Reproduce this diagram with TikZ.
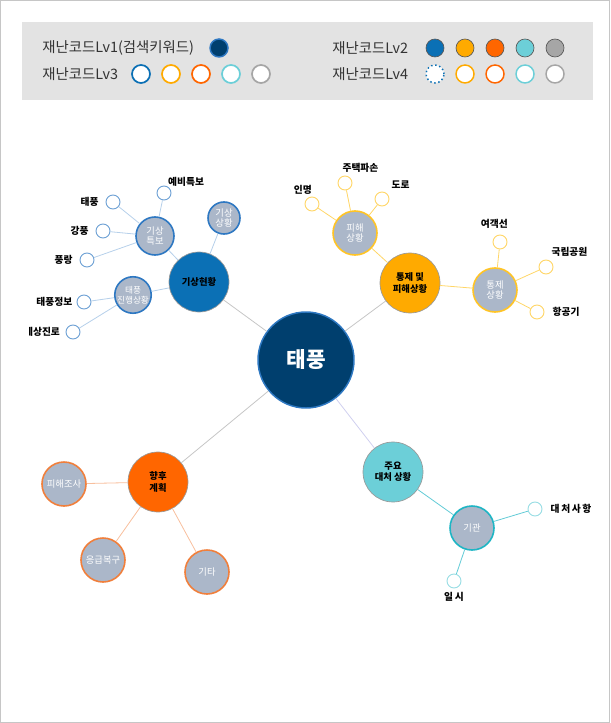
\documentclass[tikz,border=0pt]{standalone}
\usepackage{fontspec}
\setmainfont{Noto Sans CJK KR}
\usepackage{xcolor}
\usetikzlibrary{positioning}

\definecolor{navy}{HTML}{003F6E}
\definecolor{wxblue}{HTML}{0B70B5}
\definecolor{dmgyel}{HTML}{FFAA00}
\definecolor{planor}{HTML}{FF6600}
\definecolor{actcyn}{HTML}{6CCFD8}
\definecolor{midgry}{HTML}{A6A6A6}
\definecolor{subfil}{HTML}{ABB7C9}
\definecolor{bdblue}{HTML}{2E78C2}
\definecolor{bdyel}{HTML}{FFC426}
\definecolor{bdor}{HTML}{F07F3C}
\definecolor{bdcyn}{HTML}{1FB5C4}
\definecolor{legbg}{HTML}{E3E3E3}

\begin{document}
\begin{tikzpicture}[
  x=0.75pt, y=-0.75pt,
  font=\fontsize{7}{8.5}\selectfont,
  hub/.style={circle, draw=bdblue, line width=1.1pt, fill=navy, text=white,
              minimum size=72pt, inner sep=0pt,
              font=\bfseries\fontsize{16}{18}\selectfont},
  main/.style={circle, draw=gray!80, line width=0.5pt, fill=#1, align=center,
               minimum size=45pt, inner sep=0pt,
               font=\bfseries\fontsize{7}{8.5}\selectfont},
  sub/.style={circle, draw=#1, line width=1.2pt, fill=subfil, text=white,
              align=center, minimum size=33pt, inner sep=0pt,
              font=\fontsize{7}{8}\selectfont},
  leaf/.style={circle, draw=#1, line width=0.7pt, fill=white,
               minimum size=10.5pt, inner sep=0pt},
  lbl/.style={inner sep=0pt, font=\bfseries\fontsize{7.3}{8.5}\selectfont},
  lgtxt/.style={inner sep=0pt, anchor=west, text=black!80,
                font=\fontsize{10.8}{12}\selectfont},
  lgdot/.style={circle, minimum size=13.5pt, inner sep=0pt},
  link/.style={draw=#1, line width=0.6pt},
]
\useasboundingbox (0,0) rectangle (610,723);
\draw[gray!45, line width=0.6pt] (0.5,0.5) rectangle (609.5,722.5);

%% ===== LEGEND =====
\fill[legbg] (22,22) rectangle (593,100);

\node[lgtxt] (lvone) at (42,48) {재난코드Lv1(검색키워드)};
\node[lgdot, fill=navy, draw=bdblue, line width=1.1pt] (lgA) at (219,48) {};

\node[lgtxt] (lvthree) at (42,74) {재난코드Lv3};
\node[lgdot, draw=wxblue, line width=1.3pt, fill=white] (lgB1) at (141,74) {};
\node[lgdot, draw=dmgyel, line width=1.3pt, fill=white] (lgB2) at (171,74) {};
\node[lgdot, draw=planor, line width=1.3pt, fill=white] (lgB3) at (201,74) {};
\node[lgdot, draw=actcyn, line width=1.3pt, fill=white] (lgB4) at (231,74) {};
\node[lgdot, draw=midgry, line width=1.3pt, fill=white] (lgB5) at (261,74) {};

\node[lgtxt] (lvtwo) at (332,48) {재난코드Lv2};
\node[lgdot, fill=wxblue, draw=gray!70!black, line width=0.5pt] (lgC1) at (435,48) {};
\node[lgdot, fill=dmgyel, draw=gray!70!black, line width=0.5pt] (lgC2) at (465,48) {};
\node[lgdot, fill=planor, draw=gray!70!black, line width=0.5pt] (lgC3) at (495,48) {};
\node[lgdot, fill=actcyn, draw=gray!70!black, line width=0.5pt] (lgC4) at (525,48) {};
\node[lgdot, fill=midgry, draw=gray!70!black, line width=0.5pt] (lgC5) at (555,48) {};

\node[lgtxt] (lvfour) at (332,74) {재난코드Lv4};
\node[lgdot, draw=wxblue, line width=1.1pt, dotted, fill=white] (lgD1) at (435,74) {};
\node[lgdot, draw=dmgyel, line width=1.1pt, fill=white] (lgD2) at (465,74) {};
\node[lgdot, draw=planor, line width=1.1pt, fill=white] (lgD3) at (495,74) {};
\node[lgdot, draw=actcyn, line width=1.1pt, fill=white] (lgD4) at (525,74) {};
\node[lgdot, draw=midgry, line width=1.1pt, fill=white] (lgD5) at (555,74) {};

%% ===== CENTER =====
\node[hub] (typ) at (306,360) {태풍};

%% ===== WEATHER (blue) =====
\node[main=wxblue] (wx) at (199,282) {기상현황};
\node[sub=bdblue, minimum size=28.5pt] (wxwarn) at (155,236) {기상\\특보};
\node[sub=bdblue, minimum size=24pt] (wxstat) at (224,218) {기상\\상황};
\node[sub=bdblue, minimum size=25.5pt, font=\fontsize{6.5}{7.5}\selectfont] (wxtrack) at (133,295) {태풍\\진행상황};

\node[leaf=bdblue!70] (wpre) at (164,193) {};
\node[leaf=bdblue!70] (wtyp) at (113,202) {};
\node[leaf=bdblue!70] (wwind) at (103,231) {};
\node[leaf=bdblue!70] (wwave) at (87,260) {};
\node[leaf=bdblue!70] (winfo) at (84,302) {};
\node[leaf=bdblue!70] (wpath) at (73,332) {};

\node[lbl, above right=1pt and -1pt of wpre] {예비특보};
\node[lbl, left=5pt of wtyp] {태풍};
\node[lbl, left=5pt of wwind] {강풍};
\node[lbl, left=5pt of wwave] {풍랑};
\node[lbl, left=3pt of winfo] {태풍정보};
\begin{scope}
  \clip (29,320) rectangle (80,345);
  \node[lbl, left=4pt of wpath] {예상진로};
\end{scope}

%% ===== DAMAGE / CONTROL (yellow) =====
\node[main=dmgyel] (dmg) at (410,283) {통제 및\\피해상황};
\node[sub=bdyel] (dmgstat) at (355,233) {피해\\상황};
\node[sub=bdyel] (ctrl) at (495,290) {통제\\상황};

\node[leaf=bdyel!70] (dlife) at (312,204) {};
\node[leaf=bdyel!70] (dhouse) at (345,183) {};
\node[leaf=bdyel!70] (droad) at (382,199) {};
\node[leaf=bdyel!70] (cship) at (500,242) {};
\node[leaf=bdyel!70] (cpark) at (546,267) {};
\node[leaf=bdyel!70] (cair) at (537,312) {};

\node[lbl, above left=3pt and -4pt of dlife] {인명};
\node[lbl, above right=4pt and -6pt of dhouse] {주택파손};
\node[lbl, above right=4pt and 3pt of droad] {도로};
\node[lbl, above left=6pt and -10pt of cship] {여객선};
\node[lbl, above right=4pt and 0pt of cpark] {국립공원};
\node[lbl, right=6pt of cair] {항공기};

%% ===== FUTURE PLAN (orange) =====
\node[main=planor] (plan) at (158,482) {향후\\계획};
\node[sub=bdor] (psurv) at (64,484) {피해조사};
\node[sub=bdor] (prep) at (103,560) {응급복구};
\node[sub=bdor] (petc) at (207,572) {기타};

%% ===== RESPONSE (cyan) =====
\node[main=actcyn] (act) at (393,472) {주요\\대처 상황};
\node[sub=bdcyn] (agency) at (472,528) {기관};
\node[leaf=actcyn!70] (amatter) at (535,509) {};
\node[leaf=actcyn!70] (atime) at (454,581) {};
\node[lbl, right=6pt of amatter] {대\,처\,사\,항};
\node[lbl, below=3pt of atime] {일\,시};

%% ===== LINKS =====
\draw[link=gray!45] (typ) -- (wx);
\draw[link=gray!45] (typ) -- (dmg);
\draw[link=gray!45] (typ) -- (plan);
\draw[link=gray!50!blue!25] (typ) -- (act);

\draw[link=bdblue!35] (wx) -- (wxwarn);
\draw[link=bdblue!35] (wx) -- (wxstat);
\draw[link=bdblue!35] (wx) -- (wxtrack);
\draw[link=bdblue!35] (wxwarn) -- (wpre);
\draw[link=bdblue!35] (wxwarn) -- (wtyp);
\draw[link=bdblue!35] (wxwarn) -- (wwind);
\draw[link=bdblue!35] (wxwarn) -- (wwave);
\draw[link=bdblue!35] (wxtrack) -- (winfo);
\draw[link=bdblue!35] (wxtrack) -- (wpath);

\draw[link=bdyel!70] (dmg) -- (dmgstat);
\draw[link=bdyel!70] (dmg) -- (ctrl);
\draw[link=bdyel!70] (dmgstat) -- (dlife);
\draw[link=bdyel!70] (dmgstat) -- (dhouse);
\draw[link=bdyel!70] (dmgstat) -- (droad);
\draw[link=bdyel!70] (ctrl) -- (cship);
\draw[link=bdyel!70] (ctrl) -- (cpark);
\draw[link=bdyel!70] (ctrl) -- (cair);

\draw[link=bdor!50] (plan) -- (psurv);
\draw[link=bdor!50] (plan) -- (prep);
\draw[link=bdor!50] (plan) -- (petc);

\draw[link=bdcyn!70] (act) -- (agency);
\draw[link=bdcyn!70] (agency) -- (amatter);
\draw[link=bdcyn!70] (agency) -- (atime);

\end{tikzpicture}
\end{document}
